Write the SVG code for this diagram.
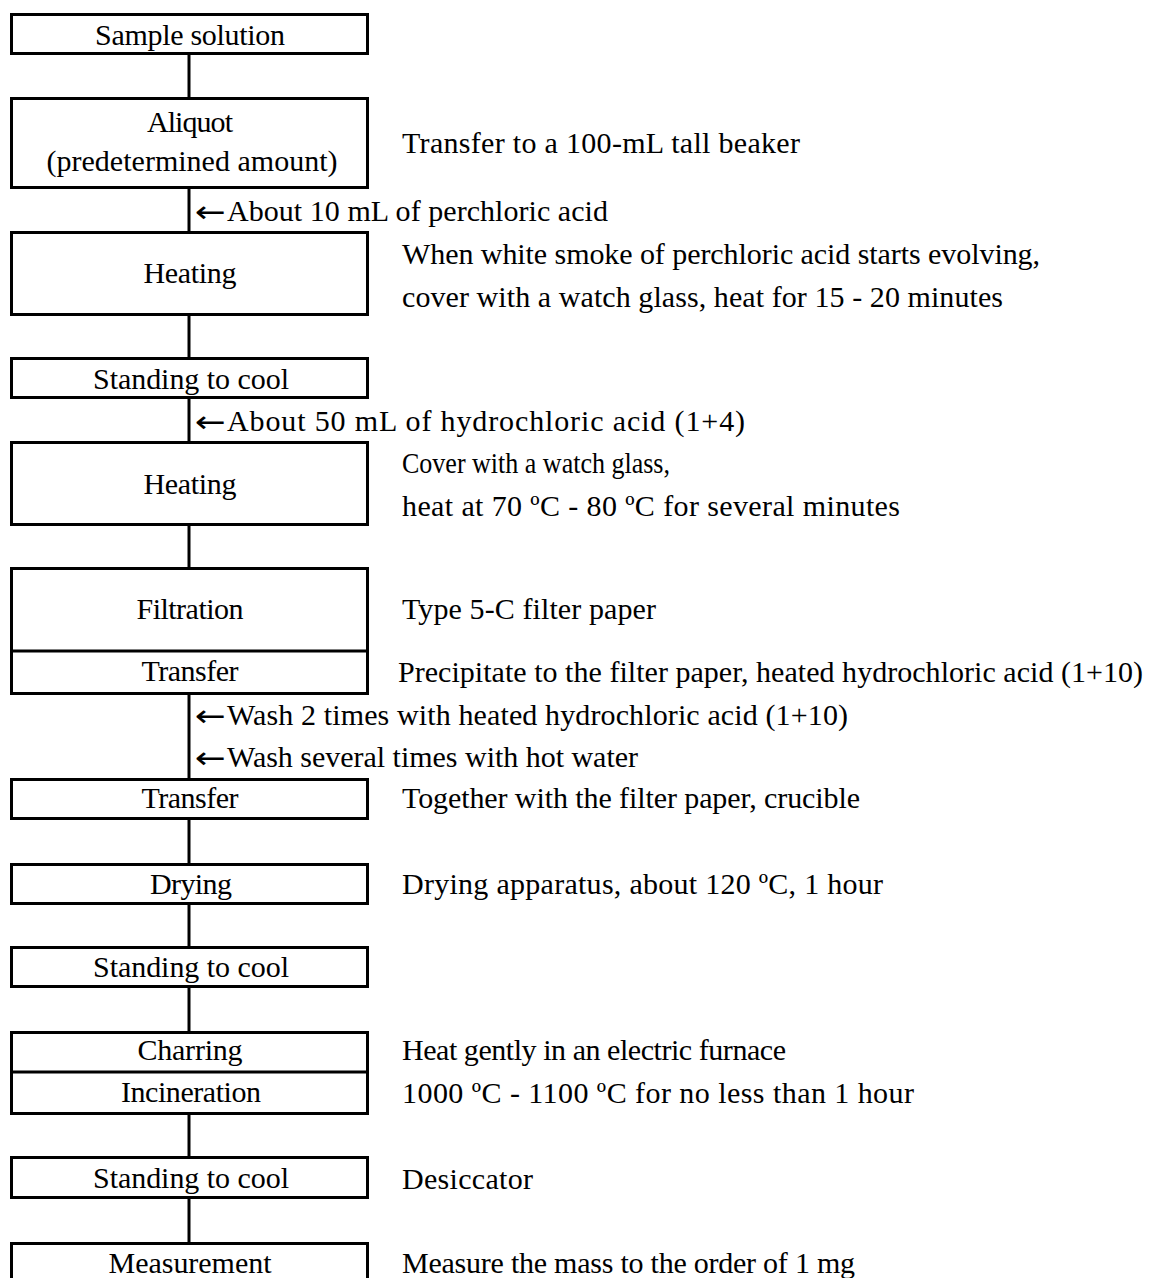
<svg xmlns="http://www.w3.org/2000/svg" width="1149" height="1278" viewBox="0 0 1149 1278">
<style>
.box{fill:#fff;stroke:#000;stroke-width:3}
.ln{stroke:#000;stroke-width:3;fill:none}
text{font-family:"Liberation Serif","Times New Roman",serif;font-size:30px;fill:#000}
.c{text-anchor:middle}
.ar{font-family:"DejaVu Sans",sans-serif;font-size:30px}
</style>
<rect width="1149" height="1278" fill="#fff"/>
<g id="connectors">
<line class="ln" x1="189" y1="55" x2="189" y2="97"/>
<line class="ln" x1="189" y1="189" x2="189" y2="231"/>
<line class="ln" x1="189" y1="316" x2="189" y2="357"/>
<line class="ln" x1="189" y1="399" x2="189" y2="441"/>
<line class="ln" x1="189" y1="526" x2="189" y2="567"/>
<line class="ln" x1="189" y1="695" x2="189" y2="778"/>
<line class="ln" x1="189" y1="820" x2="189" y2="863"/>
<line class="ln" x1="189" y1="905" x2="189" y2="946"/>
<line class="ln" x1="189" y1="988" x2="189" y2="1031"/>
<line class="ln" x1="189" y1="1115" x2="189" y2="1156"/>
<line class="ln" x1="189" y1="1199" x2="189" y2="1242"/>
<text class="ar" x="195" y="222" textLength="31" lengthAdjust="spacingAndGlyphs">←</text>
<text x="227" y="221" textLength="381" lengthAdjust="spacing">About 10 mL of perchloric acid</text>
<text class="ar" x="195" y="432" textLength="31" lengthAdjust="spacingAndGlyphs">←</text>
<text x="227" y="431" textLength="518" lengthAdjust="spacing">About 50 mL of hydrochloric acid (1+4)</text>
<text class="ar" x="195" y="726" textLength="31" lengthAdjust="spacingAndGlyphs">←</text>
<text x="227" y="725" textLength="621" lengthAdjust="spacing">Wash 2 times with heated hydrochloric acid (1+10)</text>
<text class="ar" x="195" y="768" textLength="31" lengthAdjust="spacingAndGlyphs">←</text>
<text x="227" y="767" textLength="411" lengthAdjust="spacing">Wash several times with hot water</text>
</g>
<g id="n1">
<rect class="box" x="11.5" y="14.5" width="356" height="39"/>
<text class="c" x="190" y="45" textLength="190" lengthAdjust="spacing">Sample solution</text>
</g>
<g id="n2">
<rect class="box" x="11.5" y="98.5" width="356" height="89"/>
<text class="c" x="190" y="132" textLength="86" lengthAdjust="spacing">Aliquot</text>
<text class="c" x="192" y="171" textLength="291" lengthAdjust="spacing">(predetermined amount)</text>
<text x="402" y="153" textLength="398" lengthAdjust="spacing">Transfer to a 100-mL tall beaker</text>
</g>
<g id="n3">
<rect class="box" x="11.5" y="232.5" width="356" height="82"/>
<text class="c" x="190" y="283" textLength="93" lengthAdjust="spacing">Heating</text>
<text x="402" y="264" textLength="638" lengthAdjust="spacing">When white smoke of perchloric acid starts evolving,</text>
<text x="402" y="307" textLength="601" lengthAdjust="spacing">cover with a watch glass, heat for 15 - 20 minutes</text>
</g>
<g id="n4">
<rect class="box" x="11.5" y="358.5" width="356" height="39"/>
<text class="c" x="191" y="389" textLength="196" lengthAdjust="spacing">Standing to cool</text>
</g>
<g id="n5">
<rect class="box" x="11.5" y="442.5" width="356" height="82"/>
<text class="c" x="190" y="494" textLength="93" lengthAdjust="spacing">Heating</text>
<text x="402" y="473" textLength="268" lengthAdjust="spacingAndGlyphs">Cover with a watch glass,</text>
<text x="402" y="516" textLength="498" lengthAdjust="spacing">heat at 70 ºC - 80 ºC for several minutes</text>
</g>
<g id="n6">
<rect class="box" x="11.5" y="568.5" width="356" height="125"/>
<line class="ln" x1="10" y1="651" x2="369" y2="651"/>
<text class="c" x="190" y="619" textLength="107" lengthAdjust="spacing">Filtration</text>
<text class="c" x="190" y="681" textLength="97" lengthAdjust="spacing">Transfer</text>
<text x="402" y="619" textLength="254" lengthAdjust="spacing">Type 5-C filter paper</text>
<text x="398" y="682" textLength="745" lengthAdjust="spacing">Precipitate to the filter paper, heated hydrochloric acid (1+10)</text>
</g>
<g id="n7">
<rect class="box" x="11.5" y="779.5" width="356" height="39"/>
<text class="c" x="190" y="808" textLength="97" lengthAdjust="spacing">Transfer</text>
<text x="402" y="808" textLength="458" lengthAdjust="spacing">Together with the filter paper, crucible</text>
</g>
<g id="n8">
<rect class="box" x="11.5" y="864.5" width="356" height="39"/>
<text class="c" x="191" y="894" textLength="82" lengthAdjust="spacing">Drying</text>
<text x="402" y="894" textLength="481" lengthAdjust="spacing">Drying apparatus, about 120 ºC, 1 hour</text>
</g>
<g id="n9">
<rect class="box" x="11.5" y="947.5" width="356" height="39"/>
<text class="c" x="191" y="977" textLength="196" lengthAdjust="spacing">Standing to cool</text>
</g>
<g id="n10">
<rect class="box" x="11.5" y="1032.5" width="356" height="81"/>
<line class="ln" x1="10" y1="1072" x2="369" y2="1072"/>
<text class="c" x="190" y="1060" textLength="105" lengthAdjust="spacing">Charring</text>
<text class="c" x="191" y="1102" textLength="140" lengthAdjust="spacing">Incineration</text>
<text x="402" y="1060" textLength="384" lengthAdjust="spacing">Heat gently in an electric furnace</text>
<text x="402" y="1103" textLength="512" lengthAdjust="spacing">1000 ºC - 1100 ºC for no less than 1 hour</text>
</g>
<g id="n11">
<rect class="box" x="11.5" y="1157.5" width="356" height="40"/>
<text class="c" x="191" y="1188" textLength="196" lengthAdjust="spacing">Standing to cool</text>
<text x="402" y="1189" textLength="131" lengthAdjust="spacing">Desiccator</text>
</g>
<g id="n12">
<rect class="box" x="11.5" y="1243.5" width="356" height="50"/>
<text class="c" x="190" y="1273" textLength="163" lengthAdjust="spacing">Measurement</text>
<text x="402" y="1273" textLength="453" lengthAdjust="spacing">Measure the mass to the order of 1 mg</text>
</g>
</svg>
